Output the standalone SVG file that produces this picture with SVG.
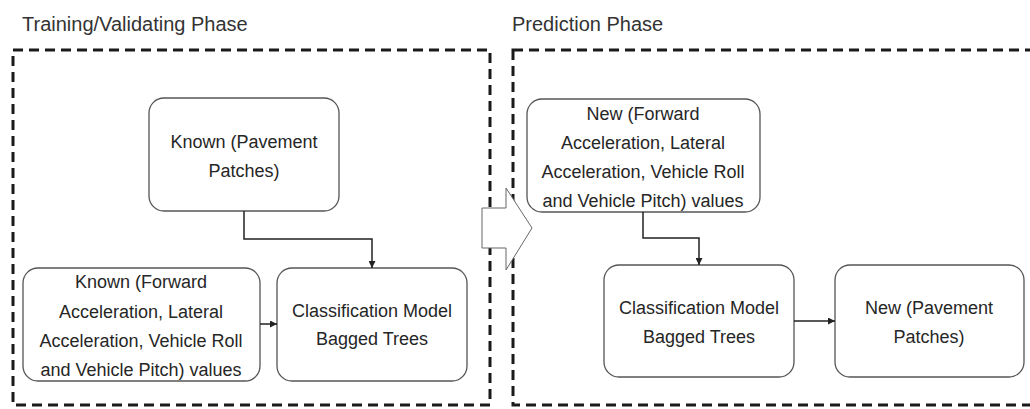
<svg xmlns="http://www.w3.org/2000/svg" width="1030" height="409" viewBox="0 0 1030 409">
<defs>
<style>
.frame{fill:none;stroke:#1a1a1a;stroke-width:3;stroke-dasharray:10 6}
.node{fill:#fff;stroke:#555;stroke-width:1.3}
.t{font-family:"Liberation Sans",Arial,sans-serif;font-size:18px;fill:#262626;text-anchor:middle}
.title{font-family:"Liberation Sans",Arial,sans-serif;font-size:20px;fill:#333}
.conn{fill:none;stroke:#222;stroke-width:1.5}
</style>
<marker id="ah" viewBox="0 0 10 10" refX="10" refY="5" markerWidth="7" markerHeight="7" markerUnits="userSpaceOnUse" orient="auto">
<path d="M0,0 L10,5 L0,10 z" fill="#222"/>
</marker>
</defs>
<rect width="1030" height="409" fill="#fff"/>
<g id="phases">
<text class="title" x="22" y="31">Training/Validating Phase</text>
<text class="title" x="512" y="31">Prediction Phase</text>
<rect class="frame" x="13" y="50" width="477" height="355"/>
<rect class="frame" x="513" y="50" width="530" height="355"/>
</g>
<g id="phase-arrow">
<path d="M482,208 L506,208 L506,188 L532,228 L506,270 L506,248 L482,248 Z" fill="#fff" stroke="#666" stroke-width="1"/>
</g>
<g id="known-patches">
<rect class="node" x="149" y="98" width="190" height="113" rx="15"/>
<text class="t" x="244" y="148">Known (Pavement</text>
<text class="t" x="244" y="177">Patches)</text>
</g>
<g id="known-values">
<rect class="node" x="23" y="268" width="237" height="113" rx="15"/>
<text class="t" x="141" y="288">Known (Forward</text>
<text class="t" x="141" y="318">Acceleration, Lateral</text>
<text class="t" x="141" y="347">Acceleration, Vehicle Roll</text>
<text class="t" x="141" y="376">and Vehicle Pitch) values</text>
</g>
<g id="train-model">
<rect class="node" x="277" y="268" width="190" height="113" rx="15"/>
<text class="t" x="372" y="317">Classification Model</text>
<text class="t" x="372" y="345">Bagged Trees</text>
</g>
<g id="new-values">
<rect class="node" x="527" y="99" width="233" height="113" rx="15"/>
<text class="t" x="643" y="120">New (Forward</text>
<text class="t" x="643" y="149">Acceleration, Lateral</text>
<text class="t" x="643" y="178">Acceleration, Vehicle Roll</text>
<text class="t" x="643" y="207">and Vehicle Pitch) values</text>
</g>
<g id="predict-model">
<rect class="node" x="604" y="265" width="190" height="112" rx="15"/>
<text class="t" x="699" y="314">Classification Model</text>
<text class="t" x="699" y="343">Bagged Trees</text>
</g>
<g id="new-patches">
<rect class="node" x="835" y="265" width="189" height="112" rx="15"/>
<text class="t" x="929" y="314">New (Pavement</text>
<text class="t" x="929" y="343">Patches)</text>
</g>
<g id="connectors">
<path class="conn" d="M244,211 V239 H372 V268" marker-end="url(#ah)"/>
<path class="conn" d="M260,324 H277" marker-end="url(#ah)"/>
<path class="conn" d="M643,212 V238 H699 V265" marker-end="url(#ah)"/>
<path class="conn" d="M794,321 H835" marker-end="url(#ah)"/>
</g>
</svg>
